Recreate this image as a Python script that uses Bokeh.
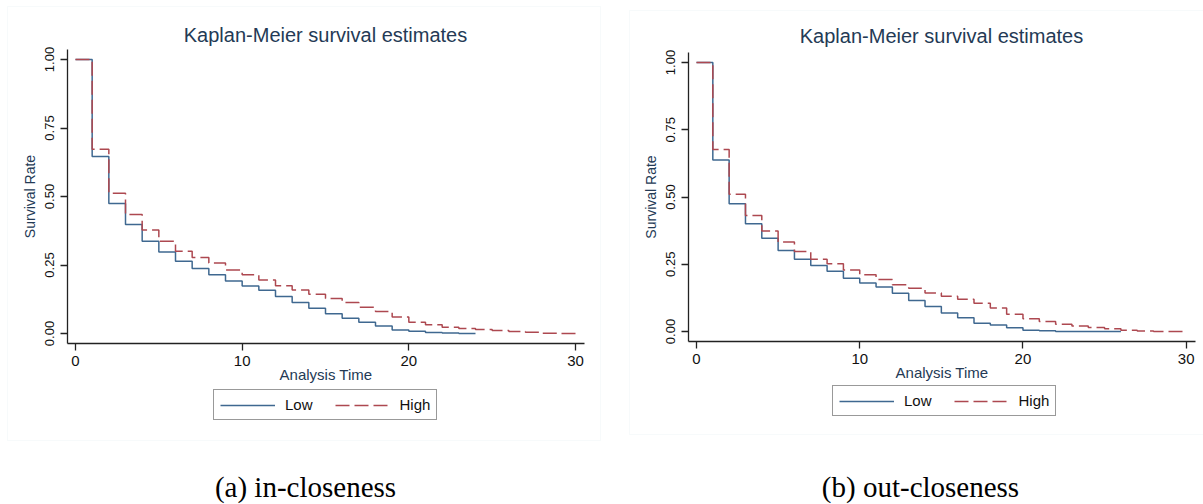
from bokeh.plotting import figure
from bokeh.models import (Range1d, FixedTicker, Legend, LegendItem, Label,
                          LinearAxis, BoxAnnotation)
from bokeh.embed import file_html
from bokeh.resources import INLINE

# ---------------- data ----------------
title_text = "Kaplan-Meier survival estimates"
x_label = "Analysis Time"
y_label = "Survival Rate"
series_names = ["Low", "High"]
x_ticks = [0, 10, 20, 30]
y_ticks = [0.0, 0.25, 0.5, 0.75, 1.0]
y_tick_labels = ["0.00", "0.25", "0.50", "0.75", "1.00"]
captions = ["(a) in-closeness", "(b) out-closeness"]

# (a) in-closeness
in_low_t = list(range(0, 25))
in_low_s = [1.0, 0.646, 0.474, 0.398, 0.337, 0.297, 0.264, 0.237, 0.214, 0.192,
            0.173, 0.158, 0.135, 0.113, 0.092, 0.072, 0.056, 0.041, 0.027, 0.013,
            0.008, 0.004, 0.002, 0.0, 0.0]
in_high_t = list(range(0, 31))
in_high_s = [1.0, 0.672, 0.512, 0.434, 0.378, 0.337, 0.300, 0.277, 0.257, 0.232,
             0.214, 0.195, 0.174, 0.159, 0.143, 0.128, 0.113, 0.096, 0.080, 0.060,
             0.041, 0.032, 0.023, 0.018, 0.015, 0.011, 0.007, 0.005, 0.001, 0.0, 0.0]

# (b) out-closeness
out_low_t = list(range(0, 27))
out_low_s = [1.0, 0.638, 0.475, 0.401, 0.347, 0.301, 0.269, 0.245, 0.224, 0.198,
             0.180, 0.165, 0.142, 0.115, 0.093, 0.069, 0.051, 0.031, 0.024, 0.014,
             0.005, 0.003, 0.0, 0.0, 0.0, 0.0, 0.0]
out_high_t = list(range(0, 31))
out_high_s = [1.0, 0.677, 0.510, 0.431, 0.374, 0.333, 0.297, 0.269, 0.252, 0.229,
              0.211, 0.193, 0.174, 0.161, 0.143, 0.131, 0.120, 0.105, 0.087, 0.064,
              0.047, 0.037, 0.027, 0.020, 0.015, 0.010, 0.005, 0.002, 0.0, 0.0, 0.0]

# ---------------- style ----------------
LOW_COLOR = "#3f6890"
HIGH_COLOR = "#ad4850"
TEXT_NAVY = "#243a55"
AXIS_COLOR = "#222222"
PANEL_EDGE = "#e6edf2"
SANS = "Liberation Sans"
SERIF = "Liberation Serif"

FIG_W, FIG_H = 1203, 504
FX0, FX1, FY0, FY1 = 0, FIG_W, 0, FIG_H   # frame = whole canvas (pixels)


class PanelScale:
    """Linear map between canvas pixels and data values for one panel."""
    def __init__(self, x0px, x30px, y0px, y1px):
        self.kx = 30.0 / (x30px - x0px)
        self.x0px = x0px
        self.ky = 1.0 / (y0px - y1px)
        self.y0px = y0px

    def xv(self, px):
        return (px - self.x0px) * self.kx

    def yv(self, py):
        return (self.y0px - py) * self.ky

    def x_range(self):
        return Range1d(self.xv(FX0), self.xv(FX1))

    def y_range(self):
        return Range1d(self.yv(FY1), self.yv(FY0))


# panel geometry (pixels): where t=0 / t=30 and S=0 / S=1 sit
PA = PanelScale(75.0, 575.0, 333.0, 59.0)
PB = PanelScale(696.0, 1185.7, 331.0, 62.0)

p = figure(width=FIG_W, height=FIG_H, x_range=PA.x_range(), y_range=PA.y_range(),
           x_axis_location=None, y_axis_location=None,
           output_backend="svg", toolbar_location=None,
           min_border_left=0, min_border_right=0, min_border_top=0, min_border_bottom=0)
p.extra_x_ranges = {"b": PB.x_range()}
p.extra_y_ranges = {"b": PB.y_range()}
p.title.visible = False
p.outline_line_color = None
p.background_fill_color = "white"
p.border_fill_color = "white"
p.grid.visible = False


def style_axis(ax, is_x):
    ax.axis_line_color = AXIS_COLOR
    ax.axis_line_width = 1.3
    ax.major_tick_line_color = AXIS_COLOR
    ax.major_tick_line_width = 1.3
    ax.major_tick_out = 7
    ax.major_tick_in = 0
    ax.minor_tick_out = 0
    ax.minor_tick_in = 0
    ax.major_label_text_font = SANS
    ax.major_label_text_color = "#111111"
    ax.axis_label_text_font = SANS
    ax.axis_label_text_font_style = "normal"
    ax.axis_label_text_color = TEXT_NAVY
    if is_x:
        ax.ticker = FixedTicker(ticks=x_ticks)
        ax.axis_label = x_label
        ax.major_label_text_font_size = "15px"
        ax.axis_label_text_font_size = "15px"
        ax.major_label_standoff = 5
        ax.axis_label_standoff = -3
    else:
        ax.ticker = FixedTicker(ticks=y_ticks)
        ax.major_label_overrides = {t: l for t, l in zip(y_ticks, y_tick_labels)}
        ax.major_label_orientation = "vertical"
        ax.axis_label = y_label
        ax.major_label_text_font_size = "13px"
        ax.axis_label_text_font_size = "14px"
        ax.major_label_standoff = 7
        ax.axis_label_standoff = 4


def build_panel(sc, low_t, low_s, high_t, high_s, caption, rname,
                ax_x_px, ax_y_px, ax_x_end_px, ax_y_top_px,
                title_cx, title_base, cap_cx, cap_base, leg_left, leg_bottom, edge):
    kw = {} if rname is None else {"x_range_name": rname, "y_range_name": rname}

    # faint panel frame of the original image
    l, t, r, b = edge
    p.add_layout(BoxAnnotation(left=sc.xv(l), right=sc.xv(r), top=sc.yv(t),
                               bottom=sc.yv(b), fill_alpha=0,
                               line_color=PANEL_EDGE, line_width=1, level="underlay",
                               **kw))

    yax = LinearAxis(fixed_location=sc.xv(ax_x_px),
                     bounds=(sc.yv(ax_y_px), sc.yv(ax_y_top_px)), **kw)
    style_axis(yax, False)
    p.add_layout(yax, "left")

    xax = LinearAxis(fixed_location=sc.yv(ax_y_px),
                     bounds=(sc.xv(ax_x_px), sc.xv(ax_x_end_px)), **kw)
    style_axis(xax, True)
    p.add_layout(xax, "below")

    r_low = p.step(low_t, low_s, mode="after", line_color=LOW_COLOR,
                   line_width=1.5, **kw)
    r_high = p.step(high_t, high_s, mode="after", line_color=HIGH_COLOR,
                    line_width=1.5, line_dash="14 5", **kw)

    p.add_layout(Label(x=sc.xv(title_cx), y=sc.yv(title_base), text=title_text,
                       text_align="center", text_baseline="alphabetic",
                       text_font=SANS, text_font_size="20px",
                       text_color=TEXT_NAVY, **kw))
    p.add_layout(Label(x=sc.xv(cap_cx), y=sc.yv(cap_base), text=caption,
                       text_align="center", text_baseline="alphabetic",
                       text_font=SERIF, text_font_size="29px",
                       text_color="black", **kw))

    legend = Legend(items=[LegendItem(label=series_names[0], renderers=[r_low]),
                           LegendItem(label=series_names[1], renderers=[r_high])],
                    orientation="horizontal",
                    location=(leg_left - FX0, FY1 - leg_bottom))
    legend.label_text_font = SANS
    legend.label_text_font_size = "15px"
    legend.label_text_color = "#111111"
    legend.border_line_color = "#333333"
    legend.border_line_width = 1.2
    legend.background_fill_color = "white"
    legend.background_fill_alpha = 1.0
    legend.padding = 6
    legend.spacing = 22
    legend.label_standoff = 10
    legend.glyph_width = 55
    legend.glyph_height = 14
    legend.label_height = 14
    legend.margin = 0
    p.add_layout(legend)


build_panel(PA, in_low_t, in_low_s, in_high_t, in_high_s, captions[0], None,
            ax_x_px=67, ax_y_px=343, ax_x_end_px=584, ax_y_top_px=49,
            title_cx=325, title_base=34, cap_cx=305, cap_base=486,
            leg_left=213, leg_bottom=420, edge=(7, 6, 600, 440))
build_panel(PB, out_low_t, out_low_s, out_high_t, out_high_s, captions[1], "b",
            ax_x_px=688, ax_y_px=341, ax_x_end_px=1195, ax_y_top_px=52,
            title_cx=941, title_base=35, cap_cx=920, cap_base=486,
            leg_left=832, leg_bottom=416, edge=(629, 10, 1210, 434))

open("out.html", "w").write(file_html(p, INLINE))
